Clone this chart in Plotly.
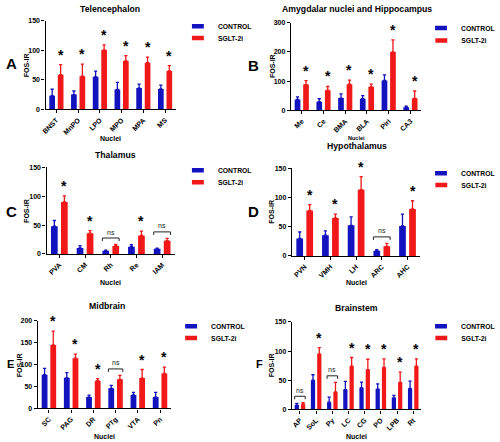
import plotly.graph_objects as go

# ---------------- data ----------------
series_names = ["CONTROL", "SGLT-2i"]

# A  Telencephalon
a_title = "Telencephalon"
a_nuclei = ["BNST", "MnPO", "LPO", "MPO", "MPA", "MS"]
a_ctrl = [23, 25, 55, 33.5, 36, 34.5]
a_ctrl_err = [11, 6, 9.5, 12, 6.5, 6.5]
a_sglt = [58.5, 56, 100.5, 82, 79, 65]
a_sglt_err = [17, 20.5, 8.5, 9, 9.5, 9]
a_sig = ["*", "*", "*", "*", "*", "*"]
a_yticks = [0, 50, 100, 150]

# B  Amygdalar nuclei and Hippocampus
b_title = "Amygdalar nuclei and Hippocampus"
b_nuclei = ["Me", "Ce", "BMA", "BLA", "Piri", "CA3"]
b_ctrl = [37, 29.5, 42, 39.5, 102, 10]
b_ctrl_err = [9, 10, 14.5, 11, 19, 4.5]
b_sglt = [88, 69, 89.5, 80.5, 200, 41]
b_sglt_err = [13.5, 12.5, 13.5, 9, 41, 25]
b_sig = ["*", "*", "*", "*", "*", "*"]
b_yticks = [0, 100, 200, 300]

# C  Thalamus
c_title = "Thalamus"
c_nuclei = ["PVA", "CM", "Rh", "Re", "IAM"]
c_ctrl = [48, 10.5, 5.5, 12.5, 9]
c_ctrl_err = [10, 4, 1.2, 3.5, 1.3]
c_sglt = [90, 36, 14, 32, 23]
c_sglt_err = [10.5, 4.5, 2.4, 7.5, 4]
c_sig = ["*", "*", "ns", "*", "ns"]
c_yticks = [0, 50, 100, 150]

# D  Hypothalamus
d_title = "Hypothalamus"
d_nuclei = ["PVN", "VMH", "LH", "ARC", "AHC"]
d_ctrl = [30, 35.5, 52.5, 9, 51.5]
d_ctrl_err = [11, 7.5, 14.5, 1.7, 20]
d_sglt = [78, 65, 113.5, 16.5, 80.5]
d_sglt_err = [10, 6.5, 22.5, 5, 14]
d_sig = ["*", "*", "*", "ns", "*"]
d_yticks = [0, 50, 100, 150]

# E  Midbrain
e_title = "Midbrain"
e_nuclei = ["SC", "PAG", "DR", "PTg", "VTA", "Pn"]
e_ctrl = [77, 70, 26, 46, 31, 26]
e_ctrl_err = [14.5, 12, 4.5, 7, 6, 11]
e_sglt = [145, 115, 63.5, 66.5, 69.5, 80]
e_sglt_err = [31.5, 9, 4.5, 9, 19.5, 14.5]
e_sig = ["*", "*", "*", "ns", "*", "*"]
e_yticks = [0, 50, 100, 150, 200]

# F  Brainstem
f_title = "Brainstem"
f_nuclei = ["AP", "SoL", "Py", "LC", "CG", "PO", "LPB", "Rt"]
f_ctrl = [7.5, 50, 12.5, 34, 37, 35, 20, 36]
f_ctrl_err = [2.8, 9.5, 8.5, 14, 10, 9, 4, 12.5]
f_sglt = [9, 95, 30, 74, 68, 72, 46.5, 74]
f_sglt_err = [2.5, 11, 16.5, 15, 18, 14.5, 17.5, 12.5]
f_sig = ["ns", "*", "ns", "*", "*", "*", "*", "*"]
f_yticks = [0, 50, 100, 150]

panel_letters = ["A", "B", "C", "D", "E", "F"]
y_title = "FOS-IR"
x_title = "Nuclei"

# ---------------- styling / layout ----------------
W, H = 500, 442
FONT = "Liberation Sans, Arial, sans-serif"
BLUE = "#1212BE"
RED = "#F01818"
colors = [BLUE, RED]
LEG_TEXT_OFFSET = 33  # px from legend box left to the start of its text

def px_x(v):
    return v / W

def px_y(v):
    return 1 - v / H

panels = [
    dict(title=a_title, nuclei=a_nuclei, vals=[a_ctrl, a_sglt], errs=[a_ctrl_err, a_sglt_err], sig=a_sig, yticks=a_yticks,
         dom_x=(43, 178), dom_y=(17, 107), leg_x=213, leg_y=(22.5, 34.5), title_pos=(110, 5), letter_pos=(8, 60), letter_size=15,
         nuc_y=137, nuc_size=7, fos_x=23),
    dict(title=b_title, nuclei=b_nuclei, vals=[b_ctrl, b_sglt], errs=[b_ctrl_err, b_sglt_err], sig=b_sig, yticks=b_yticks,
         dom_x=(297, 432), dom_y=(19, 108), leg_x=465, leg_y=(24.5, 37), title_pos=(365, 5), letter_pos=(258, 62), letter_size=15,
         nuc_y=136, nuc_size=5.5, fos_x=278),
    dict(title=c_title, nuclei=c_nuclei, vals=[c_ctrl, c_sglt], errs=[c_ctrl_err, c_sglt_err], sig=c_sig, yticks=c_yticks,
         dom_x=(44, 177), dom_y=(166, 254), leg_x=213, leg_y=(169, 181), title_pos=(115, 153), letter_pos=(8, 211), letter_size=15,
         nuc_y=283, nuc_size=7, fos_x=23),
    dict(title=d_title, nuclei=d_nuclei, vals=[d_ctrl, d_sglt], errs=[d_ctrl_err, d_sglt_err], sig=d_sig, yticks=d_yticks,
         dom_x=(298, 431), dom_y=(167, 256), leg_x=465, leg_y=(172, 184), title_pos=(365, 144), letter_pos=(258, 211), letter_size=15,
         nuc_y=283, nuc_size=7, fos_x=277),
    dict(title=e_title, nuclei=e_nuclei, vals=[e_ctrl, e_sglt], errs=[e_ctrl_err, e_sglt_err], sig=e_sig, yticks=e_yticks,
         dom_x=(35, 173), dom_y=(322, 411), leg_x=206, leg_y=(327.5, 339.5), title_pos=(107, 307), letter_pos=(6.5, 366), letter_size=11,
         nuc_y=439, nuc_size=7, fos_x=16),
    dict(title=f_title, nuclei=f_nuclei, vals=[f_ctrl, f_sglt], errs=[f_ctrl_err, f_sglt_err], sig=f_sig, yticks=f_yticks,
         dom_x=(298, 432), dom_y=(323, 412), leg_x=465, leg_y=(327.5, 339.5), title_pos=(365, 309), letter_pos=(265, 366), letter_size=11,
         nuc_y=439, nuc_size=7, fos_x=277),
]

BARGAP = 0.22
GROUPGAP = 0.33
slot = (1 - BARGAP) / 2
red_off = slot / 2
bar_half = slot * (1 - GROUPGAP) / 2

fig = go.Figure()
annotations = []
shapes = []
layout_upd = {}

for p_i, p in enumerate(panels):
    n = p_i + 1
    xa = "x" if n == 1 else f"x{n}"
    ya = "y" if n == 1 else f"y{n}"
    xa_key = "xaxis" if n == 1 else f"xaxis{n}"
    ya_key = "yaxis" if n == 1 else f"yaxis{n}"
    ymax = p["yticks"][-1]

    for s_i, sname in enumerate(series_names):
        leg_num = 2 * p_i + s_i + 1
        leg_id = "legend" if leg_num == 1 else f"legend{leg_num}"
        grp = f"{panel_letters[p_i]}-{sname}"
        fig.add_trace(go.Bar(
            x=p["nuclei"], y=p["vals"][s_i], name=sname,
            marker=dict(color=colors[s_i], line=dict(width=0)),
            error_y=dict(type="data", symmetric=False, array=p["errs"][s_i],
                         arrayminus=[0] * len(p["errs"][s_i]),
                         color=colors[s_i], thickness=1.3, width=1.6),
            xaxis=xa, yaxis=ya, showlegend=False, legendgroup=grp, offsetgroup=str(s_i),
        ))
        # legend swatch (flat bar-like rectangle)
        fig.add_trace(go.Scatter(
            x=[None], y=[None], mode="markers", name=sname,
            marker=dict(symbol="line-ew-open", size=8.5, color=colors[s_i],
                        line=dict(width=4.5, color=colors[s_i])),
            xaxis=xa, yaxis=ya, legend=leg_id, legendgroup=grp, showlegend=True, hoverinfo="skip",
        ))
        layout_upd[leg_id] = dict(
            x=px_x(p["leg_x"] - LEG_TEXT_OFFSET), xanchor="left",
            y=px_y(p["leg_y"][s_i]), yanchor="middle",
            bgcolor="rgba(0,0,0,0)", borderwidth=0, itemwidth=30,
            font=dict(family=FONT, size=6.8, color="black", weight="bold"),
        )

    layout_upd[xa_key] = dict(
        domain=[px_x(p["dom_x"][0]), px_x(p["dom_x"][1])], anchor=ya,
        type="category", range=[-0.5, len(p["nuclei"]) - 0.5],
        showline=True, linecolor="black", linewidth=1.3, ticks="outside", ticklen=3, tickwidth=1.2,
        tickcolor="black", tickangle=-45, showgrid=False, zeroline=False,
        tickfont=dict(family=FONT, size=7, color="black", weight="bold"),
    )
    layout_upd[ya_key] = dict(
        domain=[px_y(p["dom_y"][1]), px_y(p["dom_y"][0])], anchor=xa,
        range=[0, ymax], tickvals=p["yticks"],
        showline=True, linecolor="black", linewidth=1.3, ticks="outside", ticklen=3, tickwidth=1.2,
        tickcolor="black", showgrid=False, zeroline=False,
        tickfont=dict(family=FONT, size=7, color="black", weight="bold"),
    )

    annotations.append(dict(text=p["title"], xref="paper", yref="paper", x=px_x(p["title_pos"][0]), y=px_y(p["title_pos"][1]),
                            xanchor="center", yanchor="middle", showarrow=False,
                            font=dict(family=FONT, size=8.7, color="black", weight="bold")))
    annotations.append(dict(text=panel_letters[p_i], xref="paper", yref="paper", x=px_x(p["letter_pos"][0]), y=px_y(p["letter_pos"][1]),
                            xanchor="center", yanchor="middle", showarrow=False,
                            font=dict(family=FONT, size=p["letter_size"], color="black", weight="bold")))
    annotations.append(dict(text=x_title, xref="paper", yref="paper",
                            x=px_x((p["dom_x"][0] + p["dom_x"][1]) / 2), y=px_y(p["nuc_y"]),
                            xanchor="center", yanchor="middle", showarrow=False,
                            font=dict(family=FONT, size=p["nuc_size"], color="black", weight="bold")))
    annotations.append(dict(text=y_title, xref="paper", yref="paper", textangle=-90,
                            x=px_x(p["fos_x"]), y=px_y((p["dom_y"][0] + p["dom_y"][1]) / 2),
                            xanchor="center", yanchor="middle", showarrow=False,
                            font=dict(family=FONT, size=7, color="black", weight="bold")))

    for i, mark in enumerate(p["sig"]):
        top_c = p["vals"][0][i] + p["errs"][0][i]
        top_s = p["vals"][1][i] + p["errs"][1][i]
        if mark == "*":
            annotations.append(dict(text="*", xref=xa, yref=ya, x=i + red_off, y=top_s,
                                    xanchor="center", yanchor="bottom", showarrow=False, yshift=0,
                                    font=dict(family=FONT, size=14, color="black", weight="bold")))
        else:
            top = max(top_c, top_s)
            x_l = i - red_off - bar_half
            x_r = i + red_off + bar_half
            line = dict(color="#222222", width=1)
            shapes.append(dict(type="line", xref=xa, yref=ya, ysizemode="pixel", yanchor=top,
                               x0=x_l, x1=x_r, y0=6.5, y1=6.5, line=line))
            shapes.append(dict(type="line", xref=xa, yref=ya, ysizemode="pixel", yanchor=top,
                               x0=x_l, x1=x_l, y0=3.5, y1=6.5, line=line))
            shapes.append(dict(type="line", xref=xa, yref=ya, ysizemode="pixel", yanchor=top,
                               x0=x_r, x1=x_r, y0=3.5, y1=6.5, line=line))
            annotations.append(dict(text="ns", xref=xa, yref=ya, x=i, y=top,
                                    xanchor="center", yanchor="bottom", showarrow=False, yshift=7,
                                    font=dict(family=FONT, size=7, color="#222222")))

fig.update_layout(
    width=W, height=H, margin=dict(l=0, r=0, t=0, b=0),
    paper_bgcolor="white", plot_bgcolor="white",
    barmode="group", bargap=BARGAP, bargroupgap=GROUPGAP,
    font=dict(family=FONT, color="black"),
    annotations=annotations, shapes=shapes,
    **layout_upd,
)

fig.write_html("out.html",
               config={"displayModeBar": False},
               post_script="document.body.style.margin='0';document.body.style.overflow='hidden';")
